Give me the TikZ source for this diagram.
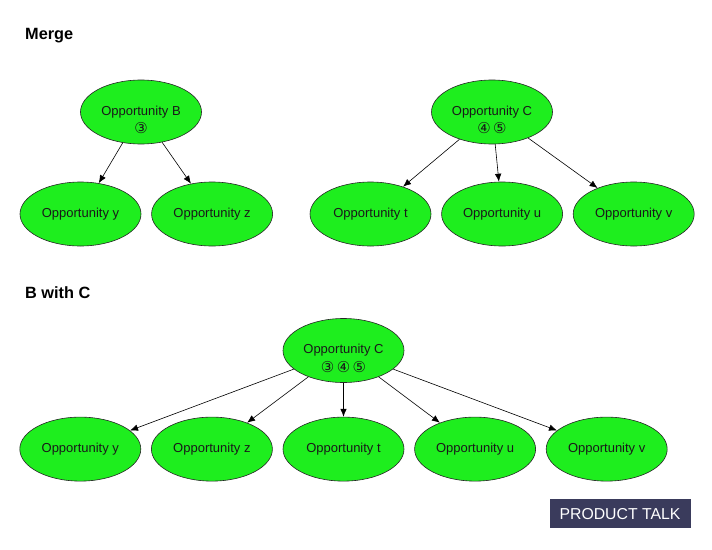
\documentclass[tikz,border=0pt]{standalone}
\usepackage{fontspec}
\setmainfont{Liberation Sans}
\newfontfamily\circfont{DejaVu Sans}
\usetikzlibrary{arrows.meta,positioning,shapes.geometric}
\definecolor{oppgreen}{RGB}{30,238,30}
\definecolor{ptnavy}{RGB}{58,59,92}
\tikzset{
  opp/.style={ellipse,draw=black!85,line width=0.6pt,fill=oppgreen,inner sep=0pt,text=black!90,
              minimum width=121pt,minimum height=64pt,font=\fontsize{13}{15}\selectfont},
  nums/.style={yshift=-16.5pt,inner sep=0pt,text=black!90,font=\circfont\fontsize{15}{17}\selectfont},
  heading/.style={anchor=west,inner sep=0pt,font=\fontsize{16.3}{18}\selectfont\bfseries},
  arr/.style={-{Latex[length=8pt,width=6.5pt]},line width=0.6pt},
  logo/.style={fill=ptnavy,text=white,minimum width=141pt,minimum height=29pt,inner sep=0pt,
               font=\fontsize{15.8}{18}\selectfont},
}

\begin{document}
\begin{tikzpicture}[x=1pt,y=-1pt]
  \useasboundingbox (0,0) rectangle (712,549);

  % merge: two trees
  \node[heading] (merge) at (25,36) {Merge};
  \node[opp,label={[nums]center:③}] (B) at (141,112) {Opportunity B};
  \node[opp] (By) at (80.5,214) {Opportunity y};
  \node[opp,right=10pt of By] (Bz) {Opportunity z};
  \node[opp,label={[nums]center:④\,⑤}] (C) at (492,112) {Opportunity C};
  \node[opp] (Ct) at (370.5,214) {Opportunity t};
  \node[opp,right=10pt of Ct] (Cu) {Opportunity u};
  \node[opp,right=10pt of Cu] (Cv) {Opportunity v};
  \draw[arr] (B) -- (By);
  \draw[arr] (B) -- (Bz);
  \draw[arr] (C) -- (Ct);
  \draw[arr] (C) -- (Cu);
  \draw[arr] (C) -- (Cv);

  % B with C: one tree
  \node[heading] (bwc) at (25,293) {B with C};
  \node[opp,label={[nums]center:③\,④\,⑤}] (M) at (343.5,350.5) {Opportunity C};
  \node[opp,below=34pt of M] (Mt) {Opportunity t};
  \node[opp,left=10pt of Mt] (Mz) {Opportunity z};
  \node[opp,left=10pt of Mz] (My) {Opportunity y};
  \node[opp,right=10pt of Mt] (Mu) {Opportunity u};
  \node[opp,right=10pt of Mu] (Mv) {Opportunity v};
  \draw[arr] (M) -- (My);
  \draw[arr] (M) -- (Mz);
  \draw[arr] (M) -- (Mt);
  \draw[arr] (M) -- (Mu);
  \draw[arr] (M) -- (Mv);

  \node[logo] (pt) at (620,513.8) {PRODUCT TALK};
\end{tikzpicture}
\end{document}
